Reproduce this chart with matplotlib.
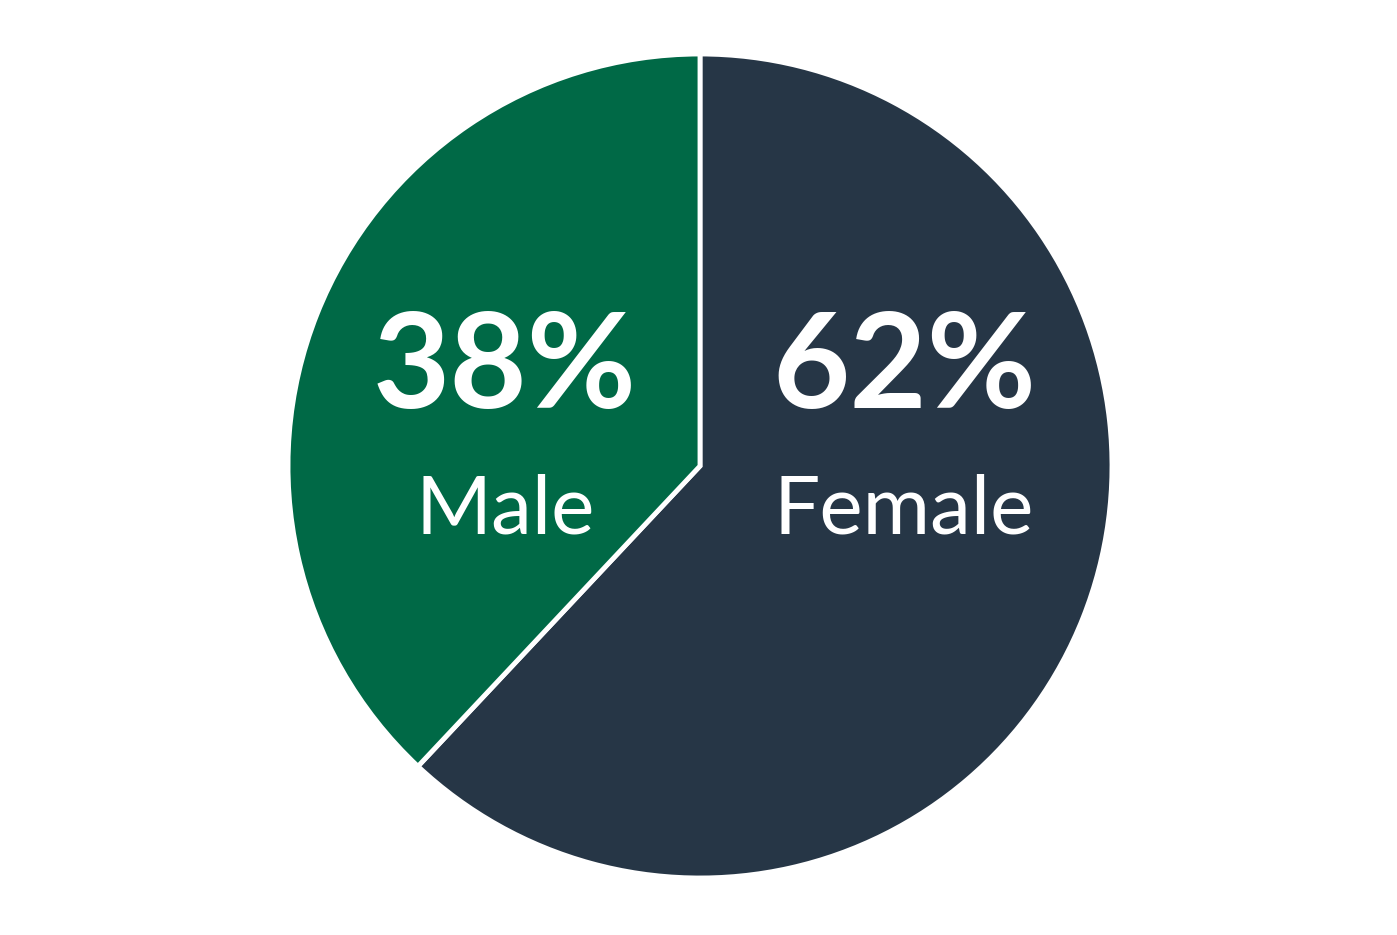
import matplotlib.pyplot as plt

# Data
labels = ["Female", "Male"]
shares = [62, 38]
colors = ["#263646", "#006946"]

W, H = 1397, 935
fig = plt.figure(figsize=(W / 100, H / 100), dpi=100)
ax = fig.add_axes([0, 0, 1, 1])

cx, cy, r = 700, H - 466, 412

ax.pie(shares, colors=colors, startangle=90, counterclock=False,
       center=(cx, cy), radius=r, frame=True,
       wedgeprops=dict(edgecolor="white", linewidth=3.5))
ax.set_xlim(0, W)
ax.set_ylim(0, H)
ax.set_aspect("equal")
ax.axis("off")

# Labels inside slices
pos = {"Male": 505, "Female": 904}
for lab, val in zip(labels, shares):
    x = pos[lab]
    ax.text(x, H - 370, f"{val}%", color="white", fontsize=96,
            fontweight="bold", family="Lato", ha="center", va="center")
    ax.text(x, H - 510, lab, color="white", fontsize=59,
            family="Lato", ha="center", va="center")

fig.savefig("out.png", dpi=100, facecolor="white")
